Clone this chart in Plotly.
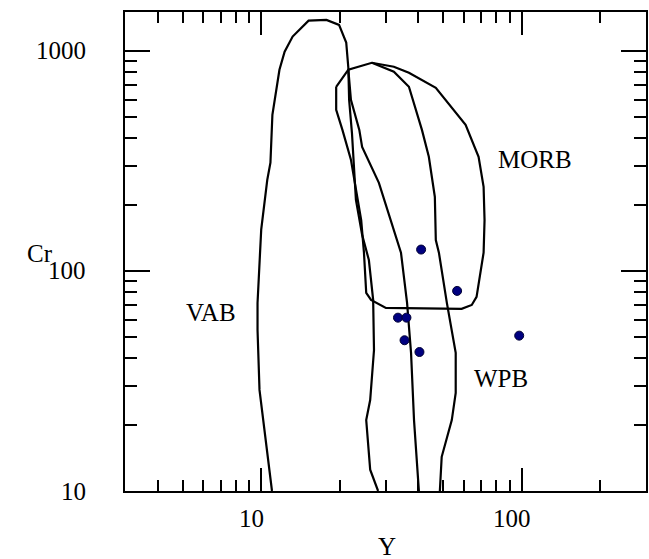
import numpy as np
import plotly.graph_objects as go

# ---- field boundaries (Y ppm, Cr ppm) ----
vab_y = [11.0, 9.85, 9.68, 9.68, 10.0, 10.55, 10.85, 11.04, 11.75, 12.3, 13.2, 15.2, 17.8, 19.9,
         21.2, 21.6, 21.75, 22.3, 23.1, 24.4, 25.9, 26.9, 27.1, 26.2, 25.3, 26.2, 28.1]
vab_cr = [10, 28.8, 53.9, 71.5, 154, 259, 310, 512, 820, 990, 1160, 1370, 1380, 1310,
          1090, 837, 599, 424, 210, 146, 112, 73.8, 43.7, 25.9, 21.0, 12.5, 10]

morb_y = [19.4, 21.6, 26.6, 32.3, 36.9, 46.8, 60.9, 68.3, 71.4, 72.0, 71.4, 67.1, 64.3, 58.8,
          30.1, 26.4, 25.3, 24.8, 24.2, 23.3, 22.1, 20.5, 19.4, 19.4]
morb_cr = [686, 820, 882, 846, 794, 679, 461, 330, 241, 170, 121, 76.2, 70.0, 67.2,
           67.9, 73.8, 79.4, 121, 170, 221, 320, 437, 539, 686]

wpb_left_y = [21.6, 22.1, 23.8, 24.4, 28.3, 31.5, 33.2, 34.4, 36.3, 37.6, 38.6, 40.3]
wpb_left_cr = [820, 599, 437, 366, 251, 170, 138, 121, 71.5, 42.4, 21.0, 10]

wpb_right_y = [26.6, 32.3, 36.9, 41.4, 44.0, 46.4, 46.8, 48.1, 51.6, 55.8, 55.8, 53.9, 49.3, 48.5]
wpb_right_cr = [882, 803, 686, 437, 330, 217, 138, 121, 71.5, 42.4, 27.9, 21.0, 14.3, 10]

# ---- samples ----
sample_y = [41.1, 56.5, 33.5, 36.1, 35.5, 40.5, 97.8]
sample_cr = [125, 81.1, 61.3, 61.3, 48.4, 42.8, 50.8]

# ---- field labels ----
field_names = ["VAB", "MORB", "WPB"]
field_label_y = [6.4, 112, 83]
field_label_cr = [64.4, 320, 32.3]

# ---- ticks ----
x_major = [10, 100]
x_major_text = ["10", "100"]
y_major = [10, 100, 1000]
y_major_text = ["10", "100", "1000"]

X_RANGE = [np.log10(3), np.log10(300)]
Y_RANGE = [1, np.log10(1500)]

FONT = "Liberation Serif"
FS = 25
TXT = dict(family=FONT, size=FS, color="black")

fig = go.Figure()
line_style = dict(color="black", width=2.2)
for xs, ys in [(vab_y, vab_cr), (morb_y, morb_cr), (wpb_left_y, wpb_left_cr),
               (wpb_right_y, wpb_right_cr)]:
    fig.add_trace(go.Scatter(x=xs, y=ys, mode="lines", line=line_style,
                             showlegend=False, hoverinfo="skip"))

fig.add_trace(go.Scatter(x=sample_y, y=sample_cr, mode="markers",
                         marker=dict(size=9, color="#000080",
                                     line=dict(color="#000033", width=1)),
                         showlegend=False))

# field names
for name, xv, yv in zip(field_names, field_label_y, field_label_cr):
    fig.add_annotation(x=np.log10(xv), y=np.log10(yv), xref="x", yref="y", text=name,
                       showarrow=False, font=TXT)

# tick labels (placed at the decade positions of each axis)
for v, t in zip(x_major, x_major_text):
    fig.add_annotation(x=np.log10(v), xref="x", y=-0.0564, yref="paper", text=t,
                       xshift=-10, yanchor="middle", showarrow=False, font=TXT)
for v, t in zip(y_major, y_major_text):
    fig.add_annotation(x=-0.0705, xref="paper", y=np.log10(v), yref="y", text=t,
                       xanchor="right", showarrow=False, font=TXT)

# axis titles
fig.add_annotation(x=-0.192, y=0.496, xref="paper", yref="paper", text="Cr",
                   showarrow=False, font=TXT)
fig.add_annotation(x=0.503, y=-0.148, xref="paper", yref="paper", text="Y",
                   showarrow=False, font=TXT)

axis_common = dict(type="log", showline=True, linecolor="black", linewidth=1.5,
                   mirror="allticks", ticks="inside", tickwidth=2, tickcolor="black",
                   showgrid=False, zeroline=False, showticklabels=False)
minor_common = dict(ticks="inside", dtick="D1", tickwidth=2, tickcolor="black",
                    showgrid=False)

fig.update_layout(
    xaxis=dict(**axis_common, range=X_RANGE, tickmode="array", tickvals=x_major,
               ticklen=23, minor=dict(**minor_common, ticklen=11)),
    yaxis=dict(**axis_common, range=Y_RANGE, tickmode="array", tickvals=y_major,
               ticklen=25, minor=dict(**minor_common, ticklen=12)),
)

fig.update_layout(width=649, height=559, margin=dict(l=125, r=1, t=12, b=68),
                  paper_bgcolor="white", plot_bgcolor="white", font=TXT)

fig.write_html("out.html")
